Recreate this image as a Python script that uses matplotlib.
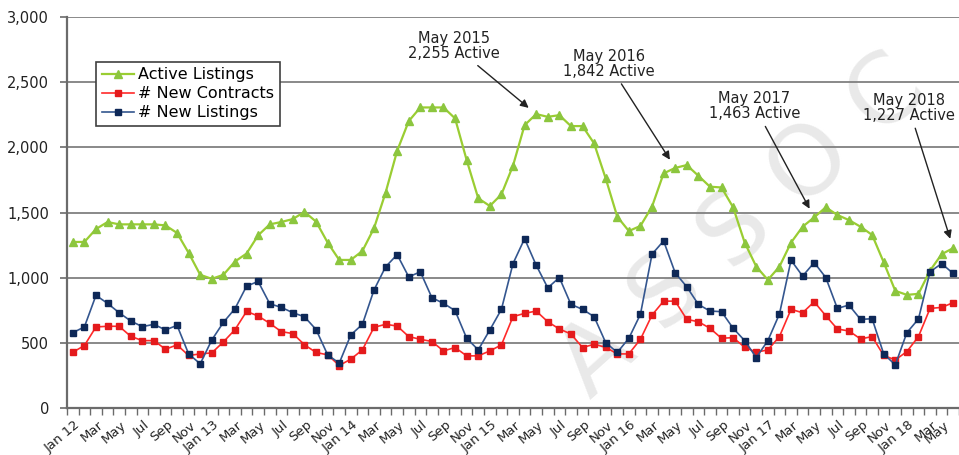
import numpy as np
import matplotlib.pyplot as plt
import matplotlib.transforms as mtransforms
from matplotlib.ticker import FuncFormatter

plt.rcParams['font.family'] = ['DejaVu Sans']

# Monthly series, Jan 2012 through May 2018
years = [12, 13, 14, 15, 16, 17, 18]
months = ['Jan', 'Feb', 'Mar', 'Apr', 'May', 'Jun',
          'Jul', 'Aug', 'Sep', 'Oct', 'Nov', 'Dec']

active_listings = [
    1274, 1274, 1373, 1427, 1409, 1409, 1409, 1409, 1401, 1343, 1190, 1022,
    991, 1022, 1124, 1185, 1325, 1409, 1427, 1450, 1505, 1430, 1269, 1136,
    1136, 1205, 1379, 1652, 1973, 2201, 2306, 2306, 2306, 2222, 1902, 1609,
    1550, 1639, 1859, 2170, 2255, 2234, 2247, 2163, 2163, 2030, 1762, 1468,
    1358, 1397, 1545, 1800, 1842, 1864, 1782, 1698, 1692, 1540, 1269, 1085,
    983, 1085, 1269, 1391, 1463, 1540, 1481, 1442, 1391, 1328, 1118, 899,
    868, 876, 1054, 1180, 1227,
]
new_contracts = [
    428, 479, 622, 627, 627, 550, 517, 517, 451, 484, 403, 415,
    423, 507, 601, 741, 706, 650, 586, 571, 485, 426, 408, 326,
    375, 446, 619, 642, 629, 548, 527, 510, 438, 464, 400, 400,
    438, 484, 701, 726, 744, 662, 606, 568, 464, 489, 466, 415,
    415, 527, 713, 820, 820, 680, 662, 612, 535, 540, 466, 428,
    446, 548, 757, 731, 815, 708, 606, 591, 530, 548, 403, 369,
    433, 548, 764, 772, 808,
]
new_listings = [
    578, 622, 864, 803, 731, 668, 624, 642, 599, 634, 415, 339,
    522, 657, 762, 935, 971, 800, 772, 731, 700, 602, 408, 344,
    561, 642, 905, 1083, 1177, 1006, 1045, 846, 803, 747, 535, 446,
    599, 757, 1108, 1299, 1096, 922, 1001, 795, 757, 701, 502, 426,
    535, 719, 1180, 1282, 1037, 930, 795, 744, 739, 612, 517, 387,
    517, 721, 1134, 1012, 1116, 1001, 764, 790, 680, 685, 415, 331,
    578, 683, 1045, 1108, 1032,
]

# callouts: (index of month, label, text offset in points)
callouts = [
    (40, 'May 2015\n2,255 Active', (-59, 49)),
    (52, 'May 2016\n1,842 Active', (-48, 75)),
    (64, 'May 2017\n1,463 Active', (-43, 80)),
    (76, 'May 2018\n1,227 Active', (-32, 101)),
]

month_labels = []
for yy in years:
    for m in months:
        month_labels.append(f'Jan {yy}' if m == 'Jan' else m)
month_labels = month_labels[:len(active_listings)]

x = np.arange(len(active_listings))

fig = plt.figure(figsize=(9.59, 4.55), dpi=100)
ax = fig.add_axes([67 / 959, 47 / 455, 892 / 959, 391 / 455])

# faint background watermark
ax.text(0.775, 0.50, 'A S S O C', transform=fig.transFigure, fontsize=70,
        color='#e2e2e2', alpha=0.75, rotation=42, ha='center', va='center',
        zorder=0.5)

ax.plot(x, active_listings, color='#9acd32', lw=1.6, marker='^', ms=6,
        mfc='#8cc63e', mec='#8cc63e', label='Active Listings', zorder=4)
ax.plot(x, new_contracts, color='#ff2a2a', lw=1.2, marker='s', ms=4.5,
        mfc='#e41a1c', mec='#e41a1c', label='# New Contracts', zorder=4)
ax.plot(x, new_listings, color='#34568f', lw=1.2, marker='s', ms=4.5,
        mfc='#0e2857', mec='#0e2857', label='# New Listings', zorder=4)

ax.set_xlim(-0.5, len(x) - 0.95)
ax.set_ylim(0, 3000)
ax.set_yticks(np.arange(0, 3001, 500))
ax.yaxis.set_major_formatter(FuncFormatter(lambda v, p: f'{int(v):,}'))
ax.grid(axis='y', color='#808080', lw=1.3)
ax.set_axisbelow(True)

for side in ['top', 'right']:
    ax.spines[side].set_visible(False)
for side in ['left', 'bottom']:
    ax.spines[side].set_color('#6b6b6b')
    ax.spines[side].set_linewidth(1.6)

ax.tick_params(axis='y', length=5, width=1.2, color='#6b6b6b', pad=8,
               labelsize=10.5, labelcolor='#222222')

ax.set_xticks(x[::2])
ax.set_xticklabels(month_labels[::2], rotation=40, ha='right', va='center',
                   rotation_mode='anchor', fontsize=9.5, color='#222222')
ax.tick_params(axis='x', which='major', length=0, pad=11)
ax.set_xticks(np.arange(-0.5, len(x), 1), minor=True)
ax.tick_params(axis='x', which='minor', length=5, width=1, color='#6b6b6b')
shift = mtransforms.ScaledTranslation(4 / 72, 0, fig.dpi_scale_trans)
edge_shift = mtransforms.ScaledTranslation(-8 / 72, 0, fig.dpi_scale_trans)
xlabels = ax.get_xticklabels()
for lbl in xlabels:
    lbl.set_transform(lbl.get_transform() + shift)
# keep the last month label inside the figure edge
xlabels[-1].set_transform(xlabels[-1].get_transform() + edge_shift)

leg = ax.legend(loc='upper left', bbox_to_anchor=(0.0325, 0.886),
                borderaxespad=0, fontsize=11.5, fancybox=False, framealpha=1,
                edgecolor='#404040', handlelength=2.0, handletextpad=0.3,
                labelspacing=0.25, borderpad=0.35)
leg.get_frame().set_linewidth(1.2)
leg.set_zorder(6)

for idx, text, offset in callouts:
    ax.annotate(text, xy=(idx, active_listings[idx]), xytext=offset,
                textcoords='offset points', ha='center', va='center',
                fontsize=10.5, linespacing=1.0, color='#222222',
                annotation_clip=False, zorder=7,
                arrowprops=dict(arrowstyle='-|>', color='#222222', lw=1.0,
                                mutation_scale=12, shrinkA=2, shrinkB=7))

fig.savefig('out.png', dpi=100)
